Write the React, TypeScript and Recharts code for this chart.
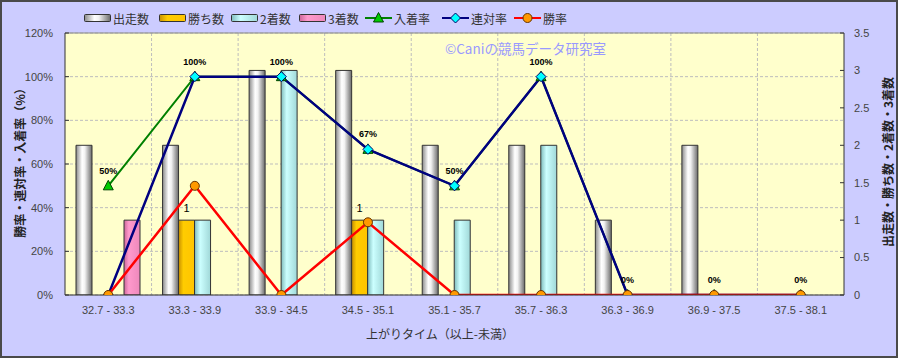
import React from 'react';
import { ComposedChart, Bar, Line, XAxis, YAxis, CartesianGrid, LabelList, ReferenceLine } from 'recharts';

const categories = ['32.7 - 33.3', '33.3 - 33.9', '33.9 - 34.5', '34.5 - 35.1', '35.1 - 35.7', '35.7 - 36.3', '36.3 - 36.9', '36.9 - 37.5', '37.5 - 38.1'];
const starts = [2, 2, 3, 3, 2, 2, 1, 2, 0];
const wins = [0, 1, 0, 1, 0, 0, 0, 0, 0];
const seconds = [0, 1, 3, 1, 1, 2, 0, 0, 0];
const thirds = [1, 0, 0, 0, 0, 0, 0, 0, 0];
const placeRate = [50, 100, 100, 66.7, 50, 100, 0, 0, 0];
const quinellaRate = [0, 100, 100, 66.7, 50, 100, 0, 0, 0];
const winRate = [0, 50, 0, 33.3, 0, 0, 0, 0, 0];
const leftTicks = [0, 20, 40, 60, 80, 100, 120];
const rightTicks = [0, 0.5, 1, 1.5, 2, 2.5, 3, 3.5];

const data = categories.map((cat, i) => ({
  cat,
  starts: starts[i],
  wins: wins[i],
  seconds: seconds[i],
  thirds: thirds[i],
  placeRate: placeRate[i],
  quinellaRate: quinellaRate[i],
  winRate: winRate[i],
}));

const FONT = '"Liberation Sans", Arial, "Noto Sans CJK JP", sans-serif';
const JFONT = '"Noto Sans CJK JP", "Liberation Sans", sans-serif';

const tri = (cx: number, cy: number) => `M${cx},${cy - 5.5}L${cx + 5},${cy + 4}L${cx - 5},${cy + 4}Z`;
const dia = (cx: number, cy: number) => `M${cx},${cy - 5}L${cx + 5},${cy}L${cx},${cy + 5}L${cx - 5},${cy}Z`;

const TriDot = (p: any) => <path key={`t${p.index}`} d={tri(p.cx, p.cy)} fill="#00CC00" stroke="#004400" strokeWidth={1} />;
const DiaDot = (p: any) => <path key={`d${p.index}`} d={dia(p.cx, p.cy)} fill="#00FFFF" stroke="#000066" strokeWidth={1} />;
const CirDot = (p: any) => <circle key={`c${p.index}`} cx={p.cx} cy={p.cy} r={4.5} fill="#FF9900" stroke="#663300" strokeWidth={1} />;

const legendItems = [
  { label: '出走数', kind: 'bar', fill: 'url(#lgWhite)', x: 82 },
  { label: '勝ち数', kind: 'bar', fill: 'url(#lgGold)', x: 157 },
  { label: '2着数', kind: 'bar', fill: 'url(#lgCyan)', x: 229 },
  { label: '3着数', kind: 'bar', fill: 'url(#lgPink)', x: 297 },
  { label: '入着率', kind: 'tri', stroke: '#008000', x: 363 },
  { label: '連対率', kind: 'dia', stroke: '#000080', x: 440 },
  { label: '勝率', kind: 'cir', stroke: '#FF0000', x: 512 },
];

const Gradients = ({ prefix }: { prefix: string }) => (
  <defs>
    <linearGradient id={`${prefix}White`} x1="0" y1="0" x2="1" y2="0">
      <stop offset="0" stopColor="#8a8a8a" />
      <stop offset="0.38" stopColor="#ffffff" />
      <stop offset="0.55" stopColor="#f2f2f2" />
      <stop offset="1" stopColor="#6a6a6a" />
    </linearGradient>
    <linearGradient id={`${prefix}Gold`} x1="0" y1="0" x2="1" y2="0">
      <stop offset="0" stopColor="#c89000" />
      <stop offset="0.3" stopColor="#ffcc00" />
      <stop offset="1" stopColor="#ffc400" />
    </linearGradient>
    <linearGradient id={`${prefix}Cyan`} x1="0" y1="0" x2="1" y2="0">
      <stop offset="0" stopColor="#7fbcbc" />
      <stop offset="0.35" stopColor="#ccffff" />
      <stop offset="1" stopColor="#a0d8d8" />
    </linearGradient>
    <linearGradient id={`${prefix}Pink`} x1="0" y1="0" x2="1" y2="0">
      <stop offset="0" stopColor="#cc6699" />
      <stop offset="0.3" stopColor="#ff99cc" />
      <stop offset="1" stopColor="#ee88bb" />
    </linearGradient>
  </defs>
);

const Legend = () => (
  <div style={{ position: 'absolute', left: 0, top: 0, width: 898, height: 32 }}>
    <svg width={0} height={0} style={{ position: 'absolute' }}>
      <Gradients prefix="lg" />
    </svg>
    {legendItems.map((it) => (
      <div key={it.label} style={{ position: 'absolute', left: it.x, top: 8, height: 16, display: 'flex', alignItems: 'center', whiteSpace: 'nowrap' }}>
        <svg width={28} height={16}>
          {it.kind === 'bar' && <rect x={0.5} y={4.5} width={26} height={7} rx={1} fill={it.fill} stroke="#333" strokeWidth={1} />}
          {it.kind !== 'bar' && <line x1={0} y1={8} x2={27} y2={8} stroke={it.stroke} strokeWidth={2} />}
          {it.kind === 'tri' && <path d={tri(13.5, 8)} fill="#00CC00" stroke="#004400" strokeWidth={1} />}
          {it.kind === 'dia' && <path d={dia(13.5, 8)} fill="#00FFFF" stroke="#000066" strokeWidth={1} />}
          {it.kind === 'cir' && <circle cx={13.5} cy={8} r={4.5} fill="#FF9900" stroke="#663300" strokeWidth={1} />}
        </svg>
        <span style={{ fontFamily: JFONT, fontSize: 12, color: '#333', marginLeft: 1 }}>{it.label}</span>
      </div>
    ))}
  </div>
);

const WinLabel = (p: any) => {
  if (!p.value) return null;
  return (
    <text x={p.x + p.width / 2} y={p.y - 8} textAnchor="middle" fontSize={11} fontFamily={FONT} fill="#000">
      {p.value}
    </text>
  );
};

const RateLabel = (p: any) => (
  <text x={p.x} y={p.y - 12} textAnchor="middle" fontSize={9} fontWeight="bold" fontFamily={FONT} fill="#000">
    {`${Math.round(p.value)}%`}
  </text>
);

export default function App() {
  return (
    <div style={{ position: 'absolute', left: 0, top: 0, width: 898, height: 358, background: '#CCCCFF', boxSizing: 'border-box', border: '2px solid #4a4a4a', overflow: 'hidden' }}>
      <div style={{ position: 'absolute', left: -2, top: -2 }}>
        <ComposedChart width={898} height={358} data={data} margin={{ top: 33, right: 0, left: 0, bottom: 0 }} barGap={0} barCategoryGap="13%">
          <Gradients prefix="g" />
          <CartesianGrid
            yAxisId="left"
            fill="#FFFFCC"
            stroke="#bdbdbd"
            strokeDasharray="3 2"
            verticalCoordinatesGenerator={(props: any) => {
              const { xAxis, offset } = props;
              const sc = xAxis && xAxis.scale;
              if (sc && typeof sc === 'function' && typeof sc.bandwidth === 'function') {
                return categories.slice(1).map((c) => sc(c));
              }
              return categories.slice(1).map((_, i) => offset.left + (offset.width * (i + 1)) / categories.length);
            }}
          />
          <XAxis
            dataKey="cat"
            height={63}
            tickSize={0}
            tickMargin={11}
            axisLine={{ stroke: '#333' }}
            tick={{ fontSize: 11, fill: '#444', fontFamily: FONT }}
            interval={0}
          />
          <YAxis
            yAxisId="left"
            orientation="left"
            width={65}
            domain={[0, 120]}
            ticks={leftTicks}
            tickFormatter={(v: number) => `${v}%`}
            tickSize={-4}
            tickMargin={16}
            axisLine={{ stroke: '#333' }}
            tickLine={{ stroke: '#333' }}
            tick={{ fontSize: 11, fill: '#444', fontFamily: FONT }}
            allowDataOverflow
          />
          <YAxis
            yAxisId="right"
            orientation="right"
            width={54}
            domain={[0, 3.5]}
            ticks={rightTicks}
            tickSize={-4}
            tickMargin={14}
            axisLine={{ stroke: '#333' }}
            tickLine={{ stroke: '#333' }}
            tick={{ fontSize: 11, fill: '#444', fontFamily: FONT, textAnchor: 'start' }}
            allowDataOverflow
          />
          <ReferenceLine yAxisId="left" y={120} stroke="#888" strokeWidth={1} />
          <Bar yAxisId="right" dataKey="starts" barSize={16} fill="url(#gWhite)" stroke="#333" strokeWidth={1} isAnimationActive={false} />
          <Bar yAxisId="right" dataKey="wins" barSize={16} fill="url(#gGold)" stroke="#333" strokeWidth={1} isAnimationActive={false}>
            <LabelList dataKey="wins" content={WinLabel} />
          </Bar>
          <Bar yAxisId="right" dataKey="seconds" barSize={16} fill="url(#gCyan)" stroke="#333" strokeWidth={1} isAnimationActive={false} />
          <Bar yAxisId="right" dataKey="thirds" barSize={16} fill="url(#gPink)" stroke="#333" strokeWidth={1} isAnimationActive={false} />
          <Line yAxisId="left" type="linear" dataKey="placeRate" stroke="#008000" strokeWidth={2} dot={TriDot} activeDot={false} isAnimationActive={false}>
            <LabelList dataKey="placeRate" content={RateLabel} />
          </Line>
          <Line yAxisId="left" type="linear" dataKey="quinellaRate" stroke="#000080" strokeWidth={2.5} dot={DiaDot} activeDot={false} isAnimationActive={false} />
          <Line yAxisId="left" type="linear" dataKey="winRate" stroke="#FF0000" strokeWidth={2.5} dot={CirDot} activeDot={false} isAnimationActive={false} />
        </ComposedChart>
      </div>
      <Legend />
      <div style={{ position: 'absolute', left: 443, top: 40, fontFamily: JFONT, fontSize: 13.5, color: '#9999FF', whiteSpace: 'nowrap', lineHeight: '13px' }}>
        ©Caniの競馬データ研究室
      </div>
      <div style={{ position: 'absolute', left: 438, top: 323, transform: 'translateX(-50%)', fontFamily: JFONT, fontSize: 12, color: '#333', whiteSpace: 'nowrap', lineHeight: '18px' }}>
        上がりタイム（以上-未満）
      </div>
      <div style={{ position: 'absolute', left: 18, top: 158, transform: 'translate(-50%, -50%) rotate(-90deg)', fontFamily: JFONT, fontSize: 12, fontWeight: 'bold', color: '#222', whiteSpace: 'nowrap', lineHeight: '16px' }}>
        勝率・連対率・入着率（%）
      </div>
      <div style={{ position: 'absolute', left: 886, top: 160, transform: 'translate(-50%, -50%) rotate(-90deg)', fontFamily: JFONT, fontSize: 12, fontWeight: 'bold', color: '#222', whiteSpace: 'nowrap', lineHeight: '16px' }}>
        出走数・勝ち数・2着数・3着数
      </div>
    </div>
  );
}
